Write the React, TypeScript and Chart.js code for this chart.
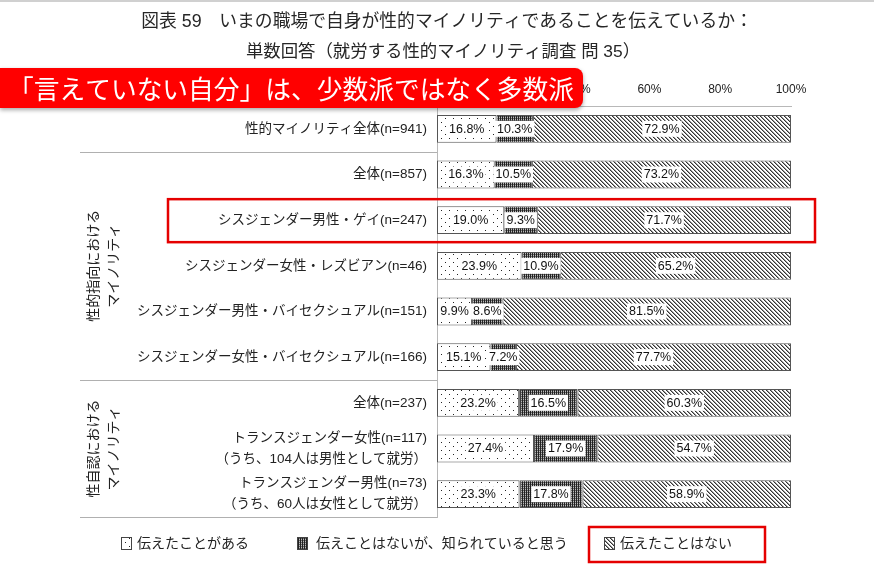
import React, { useEffect, useRef } from "react";
import { Chart, registerables } from "chart.js";

Chart.register(...registerables);

const categories: (string | string[])[] = [
  "性的マイノリティ全体(n=941)",
  "全体(n=857)",
  "シスジェンダー男性・ゲイ(n=247)",
  "シスジェンダー女性・レズビアン(n=46)",
  "シスジェンダー男性・バイセクシュアル(n=151)",
  "シスジェンダー女性・バイセクシュアル(n=166)",
  "全体(n=237)",
  ["トランスジェンダー女性(n=117)", "（うち、104人は男性として就労）"],
  ["トランスジェンダー男性(n=73)", "（うち、60人は女性として就労）"],
];

const seriesNames = ["伝えたことがある", "伝えことはないが、知られていると思う", "伝えたことはない"];
const told = [16.8, 16.3, 19.0, 23.9, 9.9, 15.1, 23.2, 27.4, 23.3];
const known = [10.3, 10.5, 9.3, 10.9, 8.6, 7.2, 16.5, 17.9, 17.8];
const notTold = [72.9, 73.2, 71.7, 65.2, 81.5, 77.7, 60.3, 54.7, 58.9];
const tickValues = [0, 20, 40, 60, 80, 100];

const titleLine1 = "図表 59　いまの職場で自身が性的マイノリティであることを伝えているか：";
const titleLine2 = "単数回答（就労する性的マイノリティ調査 問 35）";
const bannerText = "「言えていない自分」は、少数派ではなく多数派";
const groups = [
  { lines: ["性的指向における", "マイノリティ"], from: 1, to: 5 },
  { lines: ["性自認における", "マイノリティ"], from: 6, to: 8 },
];

const FONT = "'Liberation Sans', 'Noto Sans CJK JP', sans-serif";
const JFONT = "'Noto Sans CJK JP', sans-serif";

function makeTile(w: number, h: number, draw: (c: CanvasRenderingContext2D) => void) {
  const cv = document.createElement("canvas");
  cv.width = w;
  cv.height = h;
  const c = cv.getContext("2d")!;
  draw(c);
  return cv;
}

function makePatterns(ctx: CanvasRenderingContext2D) {
  const dots = makeTile(8, 8, (c) => {
    c.fillStyle = "#fff";
    c.fillRect(0, 0, 8, 8);
    c.fillStyle = "#222";
    c.fillRect(1, 2, 1, 1);
    c.fillRect(5, 6, 1, 1);
  });
  const dense = makeTile(2, 2, (c) => {
    c.fillStyle = "#bbb";
    c.fillRect(0, 0, 2, 2);
    c.fillStyle = "#222";
    c.fillRect(0, 0, 1, 2);
    c.fillStyle = "#666";
    c.fillRect(1, 0, 1, 1);
  });
  const diag = makeTile(4, 4, (c) => {
    c.fillStyle = "#fff";
    c.fillRect(0, 0, 4, 4);
    for (let i = 0; i < 4; i++) {
      c.fillStyle = "#333";
      c.fillRect(i, i, 1, 1);
      c.fillStyle = "#999";
      c.fillRect((i + 1) % 4, i, 1, 1);
    }
  });
  return [dots, dense, diag].map((t) => ctx.createPattern(t, "repeat") as CanvasPattern);
}

export default function App() {
  const ref = useRef<HTMLCanvasElement>(null);
  useEffect(() => {
    const canvas = ref.current!;
    const ctx0 = canvas.getContext("2d")!;
    const patterns = makePatterns(ctx0);
    const values = [told, known, notTold];

    const decor = {
      id: "decor",
      beforeDraw(chart: any) {
        const c = chart.ctx as CanvasRenderingContext2D;
        c.save();
        c.fillStyle = "#fff";
        c.fillRect(0, 0, chart.width, chart.height);
        c.fillStyle = "#d0d0d0";
        c.fillRect(0, 0, chart.width, 2);
        c.restore();
      },
      afterDatasetsDraw(chart: any) {
        const c = chart.ctx as CanvasRenderingContext2D;
        c.save();
        c.font = `12.5px ${FONT}`;
        c.textAlign = "center";
        c.textBaseline = "middle";
        chart.data.datasets.forEach((ds: any, di: number) => {
          const meta = chart.getDatasetMeta(di);
          meta.data.forEach((bar: any, i: number) => {
            const v = ds.data[i];
            const label = v.toFixed(1) + "%";
            const cx = (bar.x + bar.base) / 2;
            const w = c.measureText(label).width;
            c.fillStyle = "#fff";
            c.fillRect(cx - w / 2 - 2, bar.y - 8, w + 4, 16);
            c.fillStyle = "#111";
            c.fillText(label, cx, bar.y + 0.5);
          });
        });
        c.restore();
      },
      afterDraw(chart: any) {
        const c = chart.ctx as CanvasRenderingContext2D;
        const ys = chart.scales.y;
        const area = chart.chartArea;
        const mid = (i: number) => (ys.getPixelForValue(i) + ys.getPixelForValue(i + 1)) / 2;
        c.save();
        // separators
        c.strokeStyle = "#b0b0b0";
        c.lineWidth = 1;
        [mid(0), mid(5), area.bottom].forEach((y) => {
          c.beginPath();
          c.moveTo(80, Math.round(y) + 0.5);
          c.lineTo(area.left, Math.round(y) + 0.5);
          c.stroke();
        });
        // group labels
        c.fillStyle = "#222";
        c.font = `14px ${JFONT}`;
        c.textAlign = "center";
        c.textBaseline = "middle";
        groups.forEach((g) => {
          const cy = (ys.getPixelForValue(g.from) + ys.getPixelForValue(g.to)) / 2;
          g.lines.forEach((ln, k) => {
            c.save();
            c.translate(93 + k * 20, cy);
            c.rotate(-Math.PI / 2);
            c.fillText(ln, 0, 0);
            c.restore();
          });
        });
        // titles
        c.fillStyle = "#262626";
        c.font = `17.8px ${FONT}`;
        c.textAlign = "center";
        c.fillText(titleLine1, 447, 22);
        c.font = `17.4px ${FONT}`;
        c.fillText(titleLine2, 443, 52);
        // banner
        c.save();
        c.shadowColor = "rgba(0,0,0,0.35)";
        c.shadowBlur = 4;
        c.shadowOffsetY = 2;
        c.fillStyle = "#ff0000";
        const bx = 0, by = 68, bw = 583, bh = 40, r = 8;
        c.beginPath();
        c.moveTo(bx, by);
        c.lineTo(bx + bw - r, by);
        c.arcTo(bx + bw, by, bx + bw, by + r, r);
        c.lineTo(bx + bw, by + bh - r);
        c.arcTo(bx + bw, by + bh, bx + bw - r, by + bh, r);
        c.lineTo(bx, by + bh);
        c.closePath();
        c.fill();
        c.restore();
        c.fillStyle = "#fff";
        c.font = `26px ${JFONT}`;
        c.textAlign = "left";
        c.fillText(bannerText, 8, 89, 566);
        // highlight boxes
        c.strokeStyle = "#e50000";
        c.lineWidth = 2.5;
        const y2 = ys.getPixelForValue(2);
        c.strokeRect(168, y2 - 21, 647, 43);
        // legend
        const items = [
          { x: 121, tx: 137 },
          { x: 297, tx: 316 },
          { x: 604, tx: 620 },
        ];
        c.font = `14px ${JFONT}`;
        c.textBaseline = "middle";
        c.textAlign = "left";
        items.forEach((it, k) => {
          c.fillStyle = patterns[k];
          c.fillRect(it.x, 537, 10, 12);
          c.strokeStyle = "#444";
          c.lineWidth = 1;
          c.strokeRect(it.x + 0.5, 537.5, 10, 12);
          c.fillStyle = "#222";
          c.fillText(seriesNames[k], it.tx, 543);
        });
        c.strokeStyle = "#e50000";
        c.lineWidth = 2.5;
        c.strokeRect(589, 527, 176, 35);
        c.restore();
      },
    };

    const chart = new Chart(canvas, {
      type: "bar",
      data: {
        labels: categories,
        datasets: values.map((vals, k) => ({
          label: seriesNames[k],
          data: vals,
          backgroundColor: patterns[k],
          borderColor: "#555",
          borderWidth: 1,
          borderSkipped: false,
          categoryPercentage: 1,
          barPercentage: 0.61,
        })),
      },
      options: {
        indexAxis: "y",
        responsive: false,
        animation: false,
        layout: { padding: { left: 0, right: 83, top: 0, bottom: 57 } },
        plugins: { legend: { display: false }, tooltip: { enabled: false } },
        scales: {
          x: {
            position: "top",
            stacked: true,
            min: 0,
            max: 100,
            afterBuildTicks: (s: any) => {
              s.ticks = tickValues.map((v) => ({ value: v }));
            },
            afterFit: (s: any) => {
              s.height = 106;
            },
            grid: { display: false, drawTicks: false },
            border: { display: true, color: "#b8b8b8" },
            ticks: {
              padding: 9,
              color: "#222",
              font: { family: FONT, size: 12 },
              callback: (v: any) => v + "%",
            },
          },
          y: {
            stacked: true,
            afterFit: (s: any) => {
              s.width = 437;
            },
            grid: { display: false, drawTicks: false },
            border: { display: true, color: "#b8b8b8" },
            ticks: {
              padding: 10,
              color: "#222",
              font: { family: FONT, size: 13.5, lineHeight: 1.55 },
            },
          },
        },
      },
      plugins: [decor],
    } as any);
    return () => chart.destroy();
  }, []);

  return (
    <div style={{ position: "fixed", left: 0, top: 0, width: 874, height: 574 }}>
      <canvas ref={ref} width={874} height={574} style={{ width: 874, height: 574, display: "block" }} />
    </div>
  );
}
